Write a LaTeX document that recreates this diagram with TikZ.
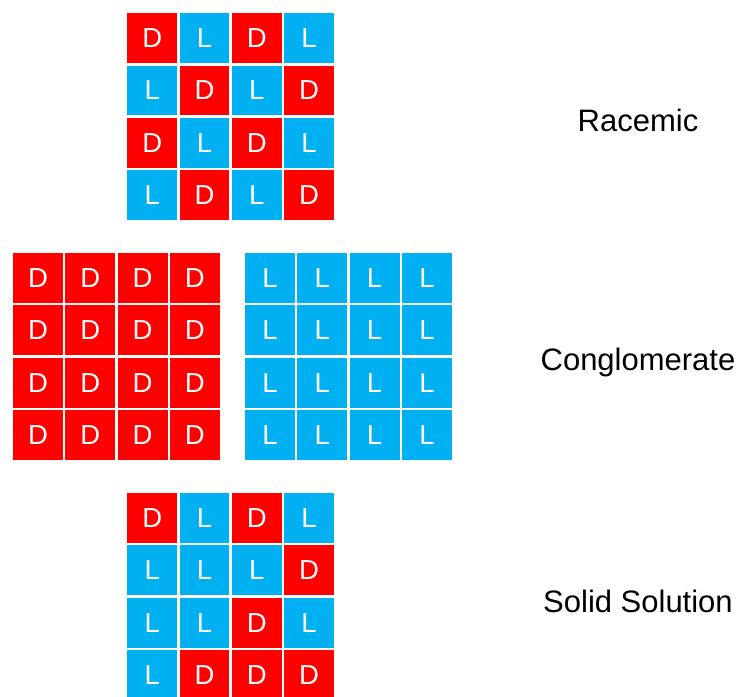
\documentclass[tikz,border=0pt]{standalone}
\usepackage{fontspec}
\setmainfont{Liberation Sans}
\usetikzlibrary{positioning}
\definecolor{colD}{HTML}{FF0000}
\definecolor{colL}{HTML}{00B0F0}

\begin{document}
\begin{tikzpicture}[x=1pt,y=-1pt,
      cell/.style={draw=white,line width=2.5pt,fill=col#1,text=white,
                   minimum size=52.3pt,inner sep=0pt,
                   font=\fontsize{27.5}{27.5}\selectfont},
      label/.style={font=\fontsize{31}{31}\selectfont,text=black}]
    \useasboundingbox (0,0) rectangle (740,697);
    % racemic: alternating D and L
    \foreach \row [count=\j] in {{D,L,D,L},{L,D,L,D},{D,L,D,L},{L,D,L,D}}
      \foreach \t [count=\i] in \row
        \node[cell=\t] (rac-\j-\i) at ({152.2+52.3*(\i-1)},{38.2+52.3*(\j-1)}) {\t};
    % conglomerate: separate D and L crystals
    \foreach \j in {1,...,4}
      \foreach \i in {1,...,4} {
        \node[cell=D] (conD-\j-\i) at ({38+52.3*(\i-1)},{278+52.3*(\j-1)}) {D};
        \node[cell=L] (conL-\j-\i) at ({270+52.3*(\i-1)},{278+52.3*(\j-1)}) {L};
      }
    % solid solution: random mixture
    \foreach \row [count=\j] in {{D,L,D,L},{L,L,L,D},{L,L,D,L},{L,D,D,D}}
      \foreach \t [count=\i] in \row
        \node[cell=\t] (sol-\j-\i) at ({152.2+52.3*(\i-1)},{518+52.3*(\j-1)}) {\t};
    \node[label] (racemic) at (638,120) {Racemic};
    \node[label] (conglom) at (638,362) {Conglomerate};
    \node[label] (solid) at (638,601) {Solid Solution};
  \end{tikzpicture}
\end{document}
